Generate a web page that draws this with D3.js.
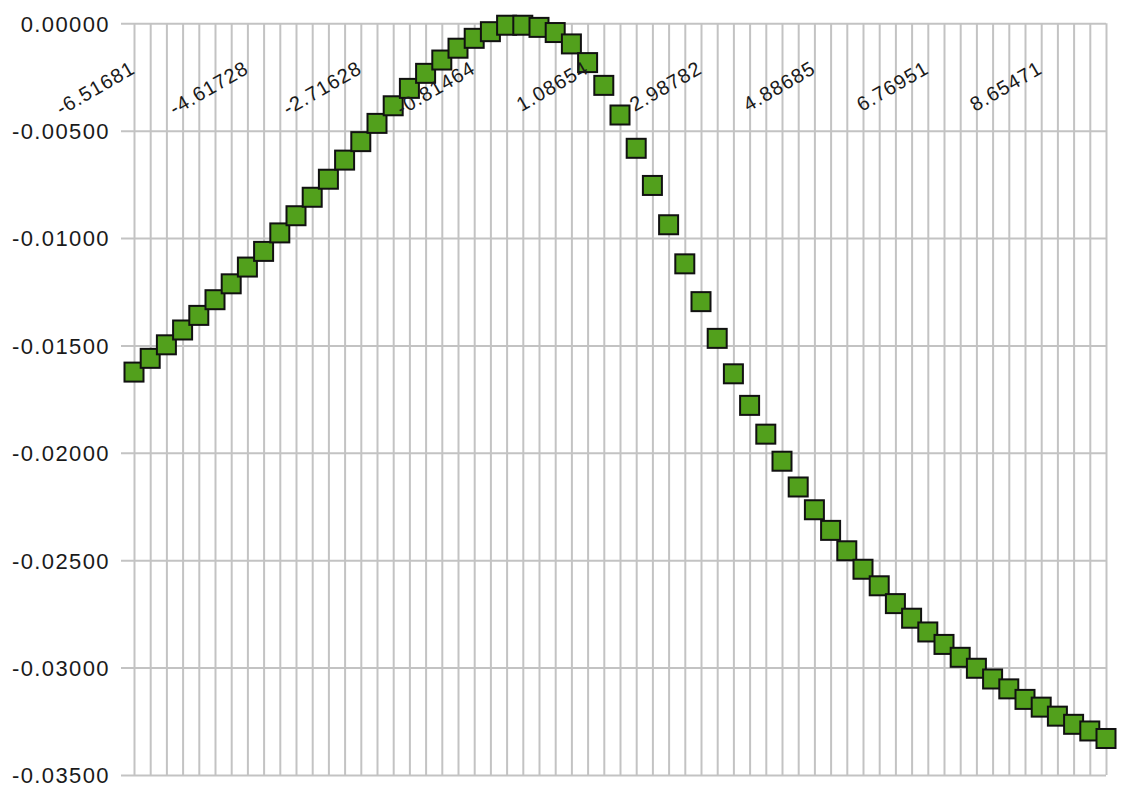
<!DOCTYPE html>
<html>
<head>
<meta charset="utf-8">
<script src="https://cdn.jsdelivr.net/npm/d3@7"></script>
<style>
  html, body { margin: 0; padding: 0; background: #fff; }
  svg { display: block; font-family: "Liberation Sans", Arial, sans-serif; }
</style>
</head>
<body>
<svg id="chart" width="1129" height="790"></svg>
<script>
// Series values, one per category (61 categories)
const values = [
  -0.01624, -0.01560, -0.01497, -0.01428, -0.01360, -0.01287, -0.01213, -0.01135,
  -0.01062, -0.00976, -0.00896, -0.00810, -0.00726, -0.00637, -0.00551, -0.00466,
  -0.00384, -0.00303, -0.00233, -0.00171, -0.00116, -0.00070, -0.00039, -0.00009,
  -0.00009, -0.00019, -0.00043, -0.00096, -0.00183, -0.00289, -0.00427, -0.00582,
  -0.00755, -0.00938, -0.01120, -0.01296, -0.01467, -0.01632, -0.01779, -0.01913,
  -0.02039, -0.02159, -0.02265, -0.02361, -0.02456, -0.02542, -0.02619, -0.02702,
  -0.02770, -0.02834, -0.02892, -0.02952, -0.03003, -0.03053, -0.03099, -0.03148,
  -0.03184, -0.03226, -0.03264, -0.03295, -0.03330
];

// Category labels shown along the top, one every seventh category
const categoryLabels = [
  "-6.51681", "-4.61728", "-2.71628", "-0.81464", "1.08654",
  "2.98782", "4.88685", "6.76951", "8.65471"
];
const labelStep = 7;

// Value axis ticks
const yTicks = [0, -0.005, -0.010, -0.015, -0.020, -0.025, -0.030, -0.035];

const svg = d3.select("#chart");
const plot = { left: 121, right: 1106, top: 23.3, bottom: 775 };
const firstCat = 134;

const x = d3.scalePoint()
  .domain(d3.range(values.length))
  .range([firstCat, plot.right]);

const y = d3.scaleLinear()
  .domain([-0.035, 0])
  .range([plot.bottom, plot.top]);

const fmt = d3.formatLocale({
  decimal: ".", thousands: ",", grouping: [3], currency: ["$", ""], minus: "-"
}).format(".5f");

const gridColor = "#c3c3c3";

// Horizontal gridlines + value labels
const yAxis = svg.append("g")
  .attr("transform", `translate(${plot.left},0)`)
  .call(d3.axisLeft(y)
    .tickValues(yTicks)
    .tickFormat(fmt)
    .tickSize(-(plot.right - plot.left))
    .tickPadding(11));
yAxis.select(".domain").remove();
yAxis.selectAll(".tick line")
  .attr("stroke", gridColor)
  .attr("stroke-width", 2);
yAxis.selectAll(".tick text")
  .attr("fill", "#1a1a1a")
  .attr("font-size", 22)
  .attr("letter-spacing", 1.4)
  .attr("dy", "0.36em");

// Vertical gridlines, one per category
const xGrid = svg.append("g")
  .attr("transform", `translate(0,${plot.bottom})`)
  .call(d3.axisBottom(x)
    .tickSize(-(plot.bottom - plot.top))
    .tickFormat(""));
xGrid.select(".domain").remove();
xGrid.selectAll(".tick line")
  .attr("stroke", gridColor)
  .attr("stroke-width", 2);

// Square markers
const size = 19;
svg.append("g")
  .selectAll("rect")
  .data(values)
  .join("rect")
  .attr("x", (d, i) => x(i) - size / 2)
  .attr("y", d => y(d) - size / 2)
  .attr("width", size)
  .attr("height", size)
  .attr("fill", "#52a01c")
  .attr("stroke", "#111")
  .attr("stroke-width", 2);

// Rotated category labels hanging below the zero line
const labelIdx = categoryLabels.map((_, k) => k * labelStep);
const xLabels = svg.append("g")
  .attr("transform", `translate(0,${plot.top})`)
  .call(d3.axisBottom(x)
    .tickValues(labelIdx)
    .tickSize(0)
    .tickFormat(i => categoryLabels[i / labelStep]));
xLabels.select(".domain").remove();
xLabels.selectAll(".tick text")
  .attr("x", 0)
  .attr("y", 0)
  .attr("dy", null)
  .attr("text-anchor", "end")
  .attr("transform", "translate(2,49) rotate(-30)")
  .attr("fill", "#1a1a1a")
  .attr("font-size", 20)
  .attr("letter-spacing", 1);
</script>
</body>
</html>
